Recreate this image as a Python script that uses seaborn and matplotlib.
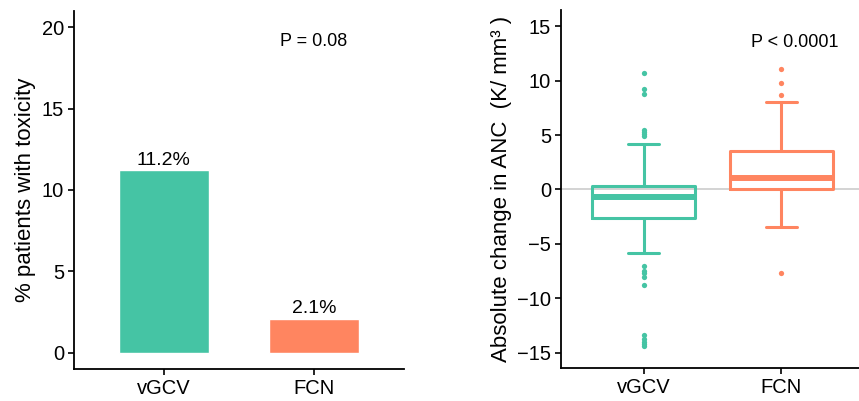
import numpy as np
import pandas as pd
import seaborn as sns
import matplotlib.pyplot as plt

groups = ['vGCV', 'FCN']
colors = ['#45C4A4', '#FF8560']

# left panel: % patients with toxicity
tox_pct = [11.2, 2.1]
tox_labels = ['11.2%', '2.1%']
p_left = 'P = 0.08'

# right panel: box summary (K/mm3)
anc_q1 = [-2.6, 0.05]
anc_med = [-0.7, 1.1]
anc_q3 = [0.3, 3.5]
anc_whislo = [-5.8, -3.4]
anc_whishi = [4.2, 8.0]
anc_fliers = [
    [10.7, 9.2, 8.8, 5.5, 5.3, 5.1, 4.9, -7.0, -7.5, -7.7, -8.0, -8.8,
     -13.4, -13.7, -14.0, -14.2, -14.4],
    [11.1, 9.8, 8.7, -7.7],
]
p_right = 'P < 0.0001'

sns.set_style('ticks')
plt.rcParams['font.family'] = ['Liberation Sans', 'DejaVu Sans']
plt.rcParams['text.color'] = 'black'
plt.rcParams['axes.labelcolor'] = 'black'

fig = plt.figure(figsize=(8.59, 4.01), dpi=100)
ax1 = fig.add_axes([0.0861, 0.0798, 0.384, 0.893])
ax2 = fig.add_axes([0.653, 0.0823, 0.353, 0.893])

# %% bars
df = pd.DataFrame({'group': groups, 'pct': tox_pct})
sns.barplot(data=df, x='group', y='pct', hue='group', palette=colors,
            saturation=1, width=0.6, legend=False, ax=ax1)
for i, (v, lab) in enumerate(zip(tox_pct, tox_labels)):
    ax1.text(i, v + 0.1, lab, ha='center', va='bottom', fontsize=14)
ax1.text(1, 19.1, p_left, ha='center', va='center', fontsize=13)
ax1.set_xlim(-0.6, 1.6)
ax1.set_ylim(-1, 21)
ax1.set_yticks([0, 5, 10, 15, 20])
ax1.set_xlabel('')
ax1.set_ylabel('% patients with toxicity', fontsize=16)

# %% boxes
ax2.axhline(0, color='#cccccc', lw=1.2, zorder=0)
for i in range(len(groups)):
    st = dict(med=anc_med[i], q1=anc_q1[i], q3=anc_q3[i],
              whislo=anc_whislo[i], whishi=anc_whishi[i], fliers=anc_fliers[i])
    c = colors[i]
    ax2.bxp([st], positions=[i], widths=0.75, capwidths=0.22, manage_ticks=False,
            boxprops=dict(color=c, lw=2.2), whiskerprops=dict(color=c, lw=2.2),
            capprops=dict(color=c, lw=2.2),
            medianprops=dict(color=c, lw=4.3, solid_capstyle='butt'),
            flierprops=dict(marker='o', markersize=3.8, markerfacecolor=c,
                            markeredgecolor='none'))
ax2.text(1.1, 13.5, p_right, ha='center', va='center', fontsize=13)
ax2.set_xticks(range(len(groups)), groups)
ax2.set_xlim(-0.6, 1.6)
ax2.set_ylim(-16.4, 16.5)
ax2.set_yticks(range(-15, 16, 5))
ax2.set_ylabel('Absolute change in ANC  (K/ mm³ )', fontsize=16)

for ax in (ax1, ax2):
    sns.despine(ax=ax)
    for s in ('left', 'bottom'):
        ax.spines[s].set_linewidth(1.3)
        ax.spines[s].set_color('black')
    ax.tick_params(length=4, width=1.2, labelsize=14.5, colors='black', pad=3)

fig.savefig('out.png', dpi=100)
